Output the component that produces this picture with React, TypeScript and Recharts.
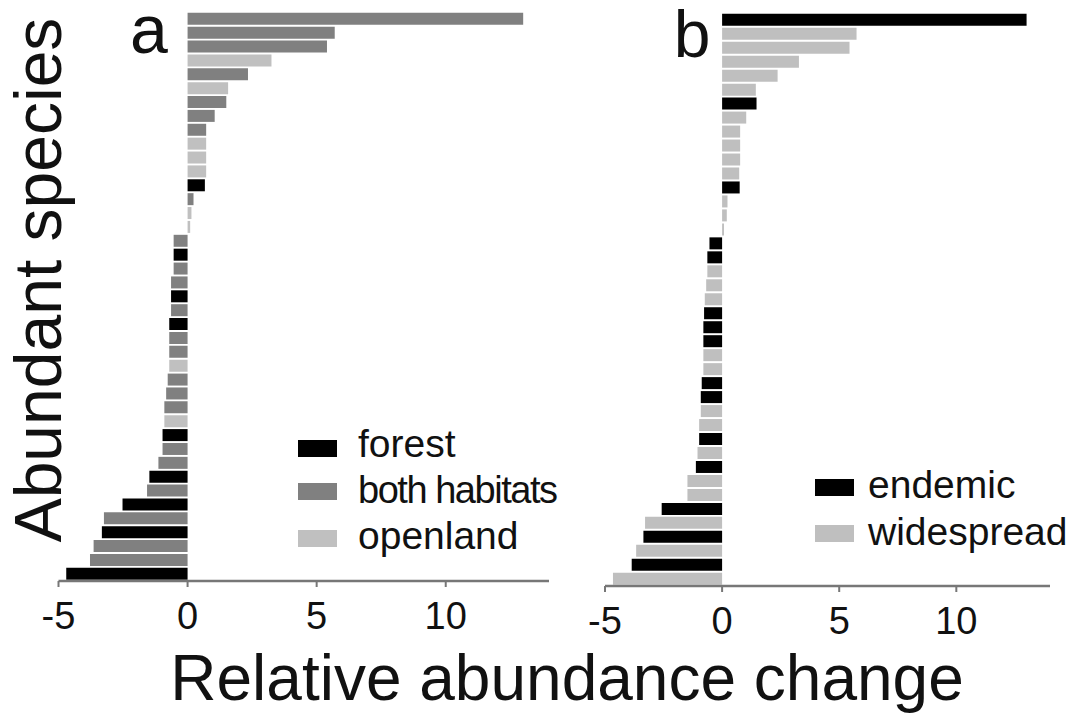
import { BarChart, Bar, Cell, XAxis, YAxis } from "recharts";

// species are ordered as in the figure, from the top bar down
const speciesIds = Array.from({ length: 41 }, (_, i) => `sp${i + 1}`);

const changeA = [
  13.0, 5.7, 5.4, 3.25, 2.34, 1.57, 1.5, 1.05, 0.72, 0.72, 0.72, 0.72, 0.67, 0.23, 0.15, 0.1,
  -0.54, -0.54, -0.54, -0.64, -0.64, -0.64, -0.71, -0.71, -0.71, -0.71, -0.77, -0.83, -0.9, -0.9,
  -0.97, -0.97, -1.13, -1.48, -1.57, -2.52, -3.24, -3.32, -3.64, -3.78, -4.7,
];

const habitatA = [
  "both", "both", "both", "openland", "both", "openland", "both", "both", "both", "openland",
  "openland", "openland", "forest", "both", "openland", "openland",
  "both", "forest", "both", "both", "forest", "both", "forest", "both", "both", "openland",
  "both", "both", "both", "openland", "forest", "both", "both", "forest", "both", "forest",
  "both", "forest", "both", "both", "forest",
];

const changeB = [
  13.0, 5.74, 5.44, 3.28, 2.37, 1.44, 1.47, 1.03, 0.77, 0.77, 0.77, 0.73, 0.75, 0.23, 0.2, 0.08,
  -0.54, -0.63, -0.63, -0.68, -0.74, -0.77, -0.8, -0.8, -0.8, -0.8, -0.87, -0.91, -0.91, -0.98,
  -0.98, -1.05, -1.12, -1.48, -1.48, -2.58, -3.29, -3.36, -3.67, -3.86, -4.66,
];

const rangeB = [
  "endemic", "widespread", "widespread", "widespread", "widespread", "widespread", "endemic",
  "widespread", "widespread", "widespread", "widespread", "widespread", "endemic", "widespread",
  "widespread", "widespread",
  "endemic", "endemic", "widespread", "widespread", "widespread", "endemic", "endemic", "endemic",
  "widespread", "widespread", "endemic", "endemic", "widespread", "widespread", "endemic",
  "widespread", "endemic", "widespread", "widespread", "endemic", "widespread", "endemic",
  "widespread", "endemic", "widespread",
];

const xTicks = [-5, 0, 5, 10];

const COLORS: Record<string, string> = {
  forest: "#000000",
  both: "#808080",
  openland: "#c0c0c0",
  endemic: "#000000",
  widespread: "#bfbfbf",
};

const FONT = "'Liberation Sans', Arial, sans-serif";

const dataA = speciesIds.map((id, i) => ({ id, value: changeA[i], group: habitatA[i] }));
const dataB = speciesIds.map((id, i) => ({ id, value: changeB[i], group: rangeB[i] }));

const Panel = ({ data, width, height, margin, axisHeight }: any) => (
  <BarChart
    width={width}
    height={height}
    data={data}
    layout="vertical"
    margin={margin}
    barCategoryGap={0.75}
  >
    <XAxis
      type="number"
      domain={[-5, 14]}
      ticks={xTicks}
      interval={0}
      height={axisHeight}
      axisLine={{ stroke: "#777", strokeWidth: 2.5 }}
      tickLine={{ stroke: "#777", strokeWidth: 2 }}
      tickSize={6}
      tickMargin={15}
      tick={{ fontSize: 38, fill: "#111", fontFamily: FONT }}
    />
    <YAxis type="category" dataKey="id" hide />
    <Bar dataKey="value" isAnimationActive={false}>
      {data.map((d: any) => (
        <Cell key={d.id} fill={COLORS[d.group]} />
      ))}
    </Bar>
  </BarChart>
);

export default function App() {
  return (
    <div style={{ position: "absolute", left: 0, top: 0, width: 1076, height: 713, background: "#fff" }}>
      <div style={{ position: "absolute", left: 0, top: 0 }}>
        <Panel
          data={dataA}
          width={560}
          height={660}
          margin={{ top: 12, right: 11, bottom: 0, left: 58.5 }}
          axisHeight={79}
        />
      </div>
      <div style={{ position: "absolute", left: 540, top: 0 }}>
        <Panel
          data={dataB}
          width={536}
          height={660}
          margin={{ top: 13, right: 26, bottom: 0, left: 65 }}
          axisHeight={74}
        />
      </div>
      <svg
        width={1076}
        height={713}
        style={{ position: "absolute", left: 0, top: 0, pointerEvents: "none" }}
        fontFamily={FONT}
        fill="#111"
      >
        <text x={149} y={53} fontSize={68} textAnchor="middle">a</text>
        <text x={692} y={57} fontSize={66} textAnchor="middle">b</text>
        <text transform="translate(61, 280) rotate(-90)" fontSize={66} textAnchor="middle">
          Abundant species
        </text>
        <text x={567} y={700} fontSize={64} textAnchor="middle">
          Relative abundance change
        </text>

        <rect x={298} y={440} width={39} height={17} fill={COLORS.forest} />
        <rect x={298} y={483} width={39} height={17} fill={COLORS.both} />
        <rect x={298} y={530} width={39} height={17} fill={COLORS.openland} />
        <text x={358} y={457} fontSize={39}>forest</text>
        <text x={358} y={503} fontSize={38} textLength={200} lengthAdjust="spacing">
          both habitats
        </text>
        <text x={358} y={549} fontSize={39}>openland</text>

        <rect x={815} y={479} width={39} height={17} fill={COLORS.endemic} />
        <rect x={815} y={525} width={39} height={17} fill={COLORS.widespread} />
        <text x={868} y={498} fontSize={39}>endemic</text>
        <text x={868} y={545} fontSize={39}>widespread</text>
      </svg>
    </div>
  );
}
